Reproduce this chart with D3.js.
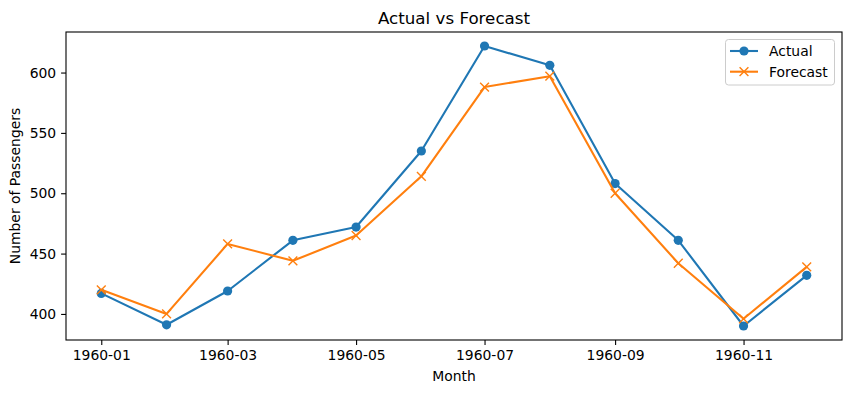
<!DOCTYPE html>
<html><head><meta charset="utf-8">
<script src="https://cdn.jsdelivr.net/npm/d3@7"></script>
<style>body{margin:0;background:#fff;} text{font-family:"DejaVu Sans",sans-serif;fill:#000;}</style>
</head><body><svg id="c" width="850" height="393"></svg>
<script>
const months = ["1960-01","1960-02","1960-03","1960-04","1960-05","1960-06","1960-07","1960-08","1960-09","1960-10","1960-11","1960-12"];
const actual = [417,391,419,461,472,535,622,606,508,461,390,432];
const forecast = [420,400,458,444,465,514,588,597,500,442,396,439];
const yTicks = [400,450,500,550,600];
const xTickLabels = ["1960-01","1960-03","1960-05","1960-07","1960-09","1960-11"];

const W=850,H=393, m={l:66,r:8,t:32,b:53};
const svg=d3.select("#c");
const parse=d3.utcParse("%Y-%m");
const dates=months.map(parse);
const d0=dates[0], d1=dates[dates.length-1], span=d1-d0;
const x=d3.scaleUtc().domain([new Date(+d0-span*0.05), new Date(+d1+span*0.05)]).range([m.l,W-m.r]);
const all=actual.concat(forecast), ymin=d3.min(all), ymax=d3.max(all), yr=ymax-ymin;
const y=d3.scaleLinear().domain([ymin-yr*0.05, ymax+yr*0.05]).range([H-m.b,m.t]);

const fs=13.9;
const xa=svg.append("g").attr("transform",`translate(0,${H-m.b})`)
 .call(d3.axisBottom(x).tickValues(xTickLabels.map(parse)).tickFormat(d3.utcFormat("%Y-%m")).tickSizeOuter(0).tickSize(4.9).tickPadding(4.9));
const ya=svg.append("g").attr("transform",`translate(${m.l},0)`)
 .call(d3.axisLeft(y).tickValues(yTicks).tickSizeOuter(0).tickSize(4.9).tickPadding(4.9));
[xa,ya].forEach(a=>{a.select(".domain").remove();a.selectAll("line").attr("stroke","#000").attr("stroke-width",1.1);
 a.selectAll("text").style("font-size",fs+"px").style("font-family","DejaVu Sans").attr("fill","#000");});

svg.append("rect").attr("x",m.l).attr("y",m.t).attr("width",W-m.r-m.l).attr("height",H-m.b-m.t)
 .attr("fill","none").attr("stroke","#000").attr("stroke-width",1.1);

const line=d3.line().x((d,i)=>x(dates[i])).y(d=>y(d));
const series=[{name:"Actual",vals:actual,color:"#1f77b4",mk:"o"},{name:"Forecast",vals:forecast,color:"#ff7f0e",mk:"x"}];
function marker(g,mk,cx,cy,color){
 if(mk==="o") g.append("circle").attr("cx",cx).attr("cy",cy).attr("r",4.6).attr("fill",color);
 else { const s=4.4; g.append("path").attr("d",`M${cx-s},${cy-s}L${cx+s},${cy+s}M${cx-s},${cy+s}L${cx+s},${cy-s}`).attr("stroke",color).attr("stroke-width",1.4).attr("fill","none"); }
}
series.forEach(s=>{
 svg.append("path").datum(s.vals).attr("d",line).attr("fill","none").attr("stroke",s.color).attr("stroke-width",2.1).attr("stroke-linejoin","round");
 const g=svg.append("g");
 s.vals.forEach((v,i)=>marker(g,s.mk,x(dates[i]),y(v),s.color));
});

svg.append("text").attr("x",(m.l+W-m.r)/2).attr("y",24).attr("text-anchor","middle").style("font-size","16.7px").text("Actual vs Forecast");
svg.append("text").attr("x",(m.l+W-m.r)/2).attr("y",380.5).attr("text-anchor","middle").style("font-size",fs+"px").text("Month");
svg.append("text").attr("transform",`translate(20,${(m.t+H-m.b)/2}) rotate(-90)`).attr("text-anchor","middle").style("font-size",fs+"px").text("Number of Passengers");

const lg=svg.append("g");
lg.append("rect").attr("x",725.5).attr("y",39.5).attr("width",109).attr("height",45.5).attr("rx",3)
 .attr("fill","#fff").attr("fill-opacity",0.8).attr("stroke","#ccc").attr("stroke-width",1);
series.forEach((s,i)=>{
 const cy=51+i*20.7;
 lg.append("line").attr("x1",730).attr("x2",758).attr("y1",cy).attr("y2",cy).attr("stroke",s.color).attr("stroke-width",2.1);
 marker(lg,s.mk,744,cy,s.color);
 lg.append("text").attr("x",769).attr("y",cy+5).style("font-size",fs+"px").text(s.name);
});
</script></body></html>
